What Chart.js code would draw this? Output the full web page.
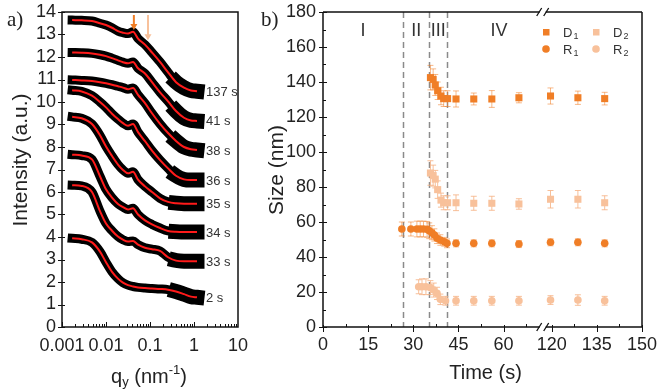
<!DOCTYPE html>
<html lang="en">
<head>
<meta charset="UTF-8">
<title>SAXS curves and particle size</title>
<script src="https://cdn.jsdelivr.net/npm/chart.js"></script>
<style>
  body { margin: 0; background: #fff; }
  #wrap { position: relative; width: 659px; height: 392px; }
  canvas { position: absolute; top: 0; }
  #chartA { left: 0; }
  #chartB { left: 245px; }
</style>
</head>
<body>
<div id="wrap">
  <canvas id="chartA" width="262" height="392"></canvas>
  <canvas id="chartB" width="414" height="392"></canvas>
</div>
<script>
// ---------- panel a: intensity vs q_y ----------
const qValues = [0.0017, 0.0028, 0.0048, 0.0073, 0.01, 0.0137, 0.0187, 0.0243, 0.0316, 0.0411,
                 0.0534, 0.0769, 0.111, 0.169, 0.257, 0.39, 0.593, 0.855, 1.17];
const curveNames = ['137 s', '41 s', '38 s', '36 s', '35 s', '34 s', '33 s', '2 s'];
const int137 = [13.64, 13.63, 13.6, 13.5, 13.42, 13.3, 13.15, 13.08, 13.04, 13.12, 12.82, 12.55, 12.2, 11.78, 11.32, 10.88, 10.64, 10.51, 10.48];
const int41  = [12.2, 12.19, 12.16, 12.1, 12.04, 11.95, 11.85, 11.77, 11.72, 11.78, 11.5, 11.27, 10.88, 10.43, 10.03, 9.6, 9.3, 9.18, 9.16];
const int38  = [10.98, 10.96, 10.93, 10.88, 10.83, 10.77, 10.7, 10.64, 10.57, 10.62, 10.32, 9.95, 9.5, 9.03, 8.62, 8.27, 8.0, 7.9, 7.87];
const int36  = [10.52, 10.47, 10.28, 10.0, 9.76, 9.48, 9.24, 9.06, 8.94, 9.02, 8.66, 8.26, 7.84, 7.42, 7.05, 6.72, 6.56, 6.53, 6.53];
const int35  = [9.34, 9.28, 9.02, 8.52, 8.02, 7.6, 7.22, 6.98, 6.83, 6.9, 6.55, 6.25, 6.0, 5.72, 5.56, 5.5, 5.48, 5.48, 5.48];
const int34  = [7.66, 7.62, 7.45, 6.7, 6.12, 5.75, 5.47, 5.33, 5.22, 5.28, 5.0, 4.74, 4.56, 4.4, 4.27, 4.23, 4.22, 4.22, 4.22];
const int33  = [6.3, 6.27, 6.0, 5.15, 4.6, 4.28, 4.02, 3.88, 3.8, 3.82, 3.66, 3.52, 3.46, 3.38, 3.1, 2.95, 2.92, 2.92, 2.92];
const int2   = [3.94, 3.9, 3.76, 3.35, 2.88, 2.45, 2.15, 1.97, 1.86, 1.8, 1.76, 1.73, 1.71, 1.69, 1.66, 1.58, 1.46, 1.35, 1.32];
const curves = [int137, int41, int38, int36, int35, int34, int33, int2];
const qTicks = [0.001, 0.01, 0.1, 1, 10];
// arrows marking the two form-factor features
const arrowQ = [0.043, 0.09];
const arrowTip = [13.2, 12.75];

// ---------- panel b: size vs time ----------
const timeD  = [35.7, 36.6, 37.3, 38.1, 39.2, 40.1, 41.4, 44.2, 50.1, 56.1, 65.1, 119.6, 128.7, 137.6];
const sizeD1 = [142.5, 141.5, 138.3, 135, 132, 130.5, 130.5, 130.3, 130.3, 130.3, 131, 132, 131, 130.5];
const errD1  = [7, 6, 6, 5, 5, 4.5, 4.5, 4.6, 3.4, 4.8, 2.9, 4.6, 3.8, 3.6];
const sizeD2 = [88, 86.5, 84.5, 78.5, 72.5, 71, 71, 71, 70.7, 70.7, 70.3, 73, 73, 71];
const errD2  = [7, 6, 5, 5, 4, 4, 4, 4.5, 4, 4, 3, 5, 5, 4];
const timeR1 = [26.2, 29.2, 31.2, 32.3, 33.4, 34.6, 35.3, 36.2, 37.0, 37.9, 39.0, 40.3, 41.2, 44.2, 50.1, 56.1, 65.1, 119.6, 128.7, 137.6];
const sizeR1 = [56, 56, 56, 56, 56, 55.8, 55, 53.9, 52.6, 50.7, 49.7, 48.7, 47.8, 47.8, 47.8, 47.8, 47.4, 48.4, 48.4, 47.8];
const errR1  = [4, 4, 4.5, 4.5, 4.5, 4.5, 4.5, 4, 3.5, 3, 3, 2.5, 2.5, 2, 2, 2, 2, 2, 2, 2];
const timeR2 = [31.8, 32.9, 34.2, 35.7, 36.8, 37.9, 39.0, 40.7, 44.2, 50.1, 56.1, 65.1, 119.6, 128.7, 137.6];
const sizeR2 = [23, 23, 23, 22.5, 21.1, 19.2, 15.8, 15, 15, 15, 15, 15, 15.4, 15.4, 15];
const errR2  = [4, 4.5, 4.5, 4, 4, 3.5, 3, 2.5, 2.5, 2.5, 2.5, 2.5, 2.5, 3, 2.5];
const timeTicks = [0, 15, 30, 45, 60, 120, 135, 150];
const phaseBounds = [26.5, 35.3, 41.2];
const phaseNames = ['I', 'II', 'III', 'IV'];
const phaseAt = [13.3, 31, 38.3, 58.5];

// broken time axis: 73..117 s is cut out
const gapStart = 73, gapEnd = 117;
function toAxis(t) { return t > gapStart ? t - (gapEnd - gapStart) : t; }

const DARK = '#f07e26', LIGHT = '#f8c19b';
const FONT = 'Liberation Sans, Arial, sans-serif';

function fixBox(w, h) {
  return s => {
    if (w != null) s.width = w;
    if (h != null) s.height = h;
    s.paddingLeft = s.paddingRight = s.paddingTop = s.paddingBottom = 0;
  };
}

// the measured points get noisy (thicker black band) at high q
function bandWidth(q) {
  return q > 0.5 ? 15 : 9;
}

// draws "q_y (nm^-1)" style text made of pieces
function drawPieces(ctx, pieces, cx, cy) {
  let total = 0;
  pieces.forEach(p => { ctx.font = p.size + 'px ' + FONT; p.w = ctx.measureText(p.t).width; total += p.w; });
  let x = cx - total / 2;
  pieces.forEach(p => {
    ctx.font = p.size + 'px ' + FONT;
    ctx.fillText(p.t, x, cy + (p.dy || 0));
    x += p.w;
  });
}

const panelA = {
  id: 'panelA',
  afterDraw(chart) {
    const { ctx, chartArea: a, scales: { x, y } } = chart;
    ctx.save();
    ctx.strokeStyle = '#111';
    ctx.lineWidth = 1.5;
    ctx.strokeRect(a.left, a.top, a.right - a.left, a.bottom - a.top);
    ctx.lineWidth = 1;
    ctx.beginPath();
    for (let v = 0; v <= 14; v++) {
      const py = Math.round(y.getPixelForValue(v)) + 0.5;
      ctx.moveTo(a.left - 4, py); ctx.lineTo(a.left + 3, py);
    }
    for (let d = -3; d <= 0; d++) {
      for (let m = 1; m <= 9; m++) {
        const px = Math.round(x.getPixelForValue(m * Math.pow(10, d))) + 0.5;
        ctx.moveTo(px, a.bottom); ctx.lineTo(px, a.bottom - (m === 1 ? 5 : 3));
      }
    }
    ctx.stroke();

    // curve labels
    ctx.fillStyle = '#333';
    ctx.font = '13px ' + FONT;
    ctx.textBaseline = 'middle';
    ctx.textAlign = 'left';
    const last = qValues.length - 1;
    curves.forEach((c, i) => {
      ctx.fillText(curveNames[i], x.getPixelForValue(qValues[last]) + 9, y.getPixelForValue(c[last]) + 1);
    });

    // arrows
    [DARK, LIGHT].forEach((col, i) => {
      const px = x.getPixelForValue(arrowQ[i]);
      const tip = y.getPixelForValue(arrowTip[i]);
      const tail = a.top + 3;
      ctx.strokeStyle = col; ctx.fillStyle = col; ctx.lineWidth = 2;
      ctx.beginPath(); ctx.moveTo(px, tail); ctx.lineTo(px, tip - 5); ctx.stroke();
      ctx.beginPath(); ctx.moveTo(px - 3.5, tip - 6); ctx.lineTo(px + 3.5, tip - 6); ctx.lineTo(px, tip); ctx.closePath(); ctx.fill();
    });

    // titles
    ctx.fillStyle = '#222';
    ctx.textAlign = 'center';
    ctx.textBaseline = 'middle';
    ctx.save();
    ctx.translate(21, 160);
    ctx.rotate(-Math.PI / 2);
    ctx.font = '21px ' + FONT;
    ctx.fillText('Intensity (a.u.)', 0, 0);
    ctx.restore();
    ctx.textAlign = 'left';
    drawPieces(ctx, [
      { t: 'q', size: 20 }, { t: 'y', size: 13, dy: 5 }, { t: ' (nm', size: 20 },
      { t: '-1', size: 13, dy: -7 }, { t: ')', size: 20 }
    ], (a.left + a.right) / 2 - 1, 377);
    ctx.font = '21px Liberation Serif, Times New Roman, serif';
    ctx.fillText('a)', 7, 20);
    ctx.restore();
  }
};

const chartA = new Chart(document.getElementById('chartA'), {
  type: 'line',
  data: {
    datasets: [
      ...curves.map(c => ({
        data: qValues.map((q, i) => ({ x: q, y: c[i] })),
        borderColor: '#000',
        borderWidth: 9,
        borderCapStyle: 'square',
        borderJoinStyle: 'round',
        segment: { borderWidth: s => bandWidth(s.p1.parsed.x) },
        cubicInterpolationMode: 'monotone',
        pointRadius: 0,
        order: 2
      })),
      ...curves.map(c => ({
        data: qValues.map((q, i) => ({ x: q, y: c[i] })),
        borderColor: '#ff1a1a',
        borderWidth: 2,
        cubicInterpolationMode: 'monotone',
        pointRadius: 0,
        order: 1
      }))
    ]
  },
  options: {
    responsive: false,
    animation: false,
    layout: { padding: { left: 0, right: 24, top: 12, bottom: 0 } },
    plugins: { legend: { display: false }, tooltip: { enabled: false } },
    scales: {
      x: {
        type: 'logarithmic', min: 0.001, max: 10,
        afterBuildTicks: s => { s.ticks = qTicks.map(v => ({ value: v })); },
        afterFit: fixBox(null, 65),
        grid: { display: false, drawTicks: false }, border: { display: false },
        ticks: { autoSkip: false, maxRotation: 0, padding: 8, color: '#222', font: { family: FONT, size: 18 },
                 callback: v => String(v) }
      },
      y: {
        min: 0, max: 14,
        afterFit: fixBox(62, null),
        grid: { display: false, drawTicks: false }, border: { display: false },
        ticks: { stepSize: 1, autoSkip: false, padding: 6, color: '#222', font: { family: FONT, size: 18 } }
      }
    }
  },
  plugins: [panelA]
});

// ---------- panel b ----------
const errorSets = [
  { times: timeD, vals: sizeD1, errs: errD1, color: 'rgba(240,126,38,0.55)' },
  { times: timeD, vals: sizeD2, errs: errD2, color: 'rgba(246,180,135,0.85)' },
  { times: timeR1, vals: sizeR1, errs: errR1, color: 'rgba(240,126,38,0.55)' },
  { times: timeR2, vals: sizeR2, errs: errR2, color: 'rgba(246,180,135,0.85)' }
];

const panelB = {
  id: 'panelB',
  beforeDatasetsDraw(chart) {
    const { ctx, chartArea: a, scales: { x, y } } = chart;
    ctx.save();
    ctx.strokeStyle = '#8a8a8a';
    ctx.lineWidth = 1.5;
    ctx.setLineDash([6, 4]);
    phaseBounds.forEach(t => {
      const px = Math.round(x.getPixelForValue(toAxis(t))) + 0.5;
      ctx.beginPath(); ctx.moveTo(px, a.top); ctx.lineTo(px, a.bottom); ctx.stroke();
    });
    ctx.setLineDash([]);
    ctx.lineWidth = 1;
    errorSets.forEach(s => {
      ctx.strokeStyle = s.color;
      ctx.beginPath();
      s.times.forEach((t, i) => {
        const px = x.getPixelForValue(toAxis(t));
        const y1 = y.getPixelForValue(s.vals[i] + s.errs[i]);
        const y2 = y.getPixelForValue(s.vals[i] - s.errs[i]);
        ctx.moveTo(px, y1); ctx.lineTo(px, y2);
        ctx.moveTo(px - 3, y1); ctx.lineTo(px + 3, y1);
        ctx.moveTo(px - 3, y2); ctx.lineTo(px + 3, y2);
      });
      ctx.stroke();
    });
    ctx.restore();
  },
  afterDraw(chart) {
    const { ctx, chartArea: a, scales: { x, y } } = chart;
    const bx = x.getPixelForValue(gapStart);
    ctx.save();
    ctx.strokeStyle = '#111';
    ctx.lineWidth = 1.5;
    ctx.beginPath();
    ctx.moveTo(a.left, a.top); ctx.lineTo(a.left, a.bottom);
    ctx.moveTo(a.right, a.top); ctx.lineTo(a.right, a.bottom);
    [a.top, a.bottom].forEach(py => {
      ctx.moveTo(a.left, py); ctx.lineTo(bx - 3, py);
      ctx.moveTo(bx + 3, py); ctx.lineTo(a.right, py);
    });
    ctx.stroke();
    // break marks
    ctx.lineWidth = 1.3;
    ctx.beginPath();
    [a.top, a.bottom].forEach(py => {
      ctx.moveTo(bx - 6, py + 4); ctx.lineTo(bx - 1, py - 4);
      ctx.moveTo(bx + 1, py + 4); ctx.lineTo(bx + 6, py - 4);
    });
    ctx.stroke();
    // ticks
    ctx.lineWidth = 1;
    ctx.beginPath();
    for (let v = 0; v <= 180; v += 10) {
      const py = Math.round(y.getPixelForValue(v)) + 0.5;
      if (v % 20 === 0) { ctx.moveTo(a.left - 4, py); ctx.lineTo(a.left + 4, py); }
      else { ctx.moveTo(a.left, py); ctx.lineTo(a.left + 3, py); }
    }
    timeTicks.forEach(t => {
      const px = Math.round(x.getPixelForValue(toAxis(t))) + 0.5;
      ctx.moveTo(px, a.bottom - 2); ctx.lineTo(px, a.bottom + 5);
    });
    [7.5, 22.5, 37.5, 52.5, 67.5, 127.5, 142.5].forEach(t => {
      const px = Math.round(x.getPixelForValue(toAxis(t))) + 0.5;
      ctx.moveTo(px, a.bottom); ctx.lineTo(px, a.bottom - 3);
    });
    ctx.stroke();

    // phase labels
    ctx.fillStyle = '#333';
    ctx.textAlign = 'center';
    ctx.textBaseline = 'middle';
    ctx.font = '18px ' + FONT;
    phaseNames.forEach((n, i) => ctx.fillText(n, x.getPixelForValue(phaseAt[i]), a.top + 19));

    // legend
    const items = [
      { name: 'D', sub: '1', col: DARK, sq: true, dx: -96, dy: 20 },
      { name: 'D', sub: '2', col: LIGHT, sq: true, dx: -46, dy: 20 },
      { name: 'R', sub: '1', col: DARK, sq: false, dx: -96, dy: 37 },
      { name: 'R', sub: '2', col: LIGHT, sq: false, dx: -46, dy: 37 }
    ];
    items.forEach(it => {
      const mx = a.right + it.dx, my = a.top + it.dy;
      ctx.fillStyle = it.col;
      if (it.sq) ctx.fillRect(mx - 3, my - 3, 6.5, 6.5);
      else { ctx.beginPath(); ctx.arc(mx, my, 3.8, 0, Math.PI * 2); ctx.fill(); }
      ctx.fillStyle = '#333';
      ctx.textAlign = 'left';
      ctx.font = '13px ' + FONT;
      ctx.fillText(it.name, mx + 17, my + 1);
      const w = ctx.measureText(it.name).width;
      ctx.font = '9px ' + FONT;
      ctx.fillText(it.sub, mx + 17 + w + 1, my + 5);
    });

    // titles
    ctx.fillStyle = '#222';
    ctx.textAlign = 'center';
    ctx.save();
    ctx.translate(277 - 245, 170);
    ctx.rotate(-Math.PI / 2);
    ctx.font = '21px ' + FONT;
    ctx.fillText('Size (nm)', 0, 0);
    ctx.restore();
    ctx.font = '20px ' + FONT;
    ctx.fillText('Time (s)', (a.left + a.right) / 2 + 3, 373);
    ctx.textAlign = 'left';
    ctx.font = '21px Liberation Serif, Times New Roman, serif';
    ctx.fillText('b)', 261 - 245, 20);
    ctx.restore();
  }
};

function pts(times, vals) { return times.map((t, i) => ({ x: toAxis(t), y: vals[i] })); }

const chartB = new Chart(document.getElementById('chartB'), {
  type: 'scatter',
  data: {
    datasets: [
      { label: 'D1', data: pts(timeD, sizeD1), pointStyle: 'rect', pointRadius: 5, backgroundColor: DARK, borderWidth: 0 },
      { label: 'D2', data: pts(timeD, sizeD2), pointStyle: 'rect', pointRadius: 5, backgroundColor: LIGHT, borderWidth: 0 },
      { label: 'R1', data: pts(timeR1, sizeR1), pointStyle: 'circle', pointRadius: 3.8, backgroundColor: DARK, borderWidth: 0 },
      { label: 'R2', data: pts(timeR2, sizeR2), pointStyle: 'circle', pointRadius: 3.8, backgroundColor: LIGHT, borderWidth: 0 }
    ]
  },
  options: {
    responsive: false,
    animation: false,
    layout: { padding: { left: 0, right: 17, top: 12, bottom: 0 } },
    plugins: { legend: { display: false }, tooltip: { enabled: false } },
    scales: {
      x: {
        type: 'linear', min: 0, max: toAxis(150),
        afterBuildTicks: s => { s.ticks = timeTicks.map(t => ({ value: toAxis(t) })); },
        afterFit: fixBox(null, 65),
        grid: { display: false, drawTicks: false }, border: { display: false },
        ticks: { autoSkip: false, maxRotation: 0, padding: 7, color: '#222', font: { family: FONT, size: 18 },
                 callback: (v, i) => String(timeTicks[i]) }
      },
      y: {
        min: 0, max: 180,
        afterFit: fixBox(78, null),
        grid: { display: false, drawTicks: false }, border: { display: false },
        ticks: { stepSize: 20, autoSkip: false, padding: 7, color: '#222', font: { family: FONT, size: 18 } }
      }
    }
  },
  plugins: [panelB]
});
</script>
</body>
</html>
